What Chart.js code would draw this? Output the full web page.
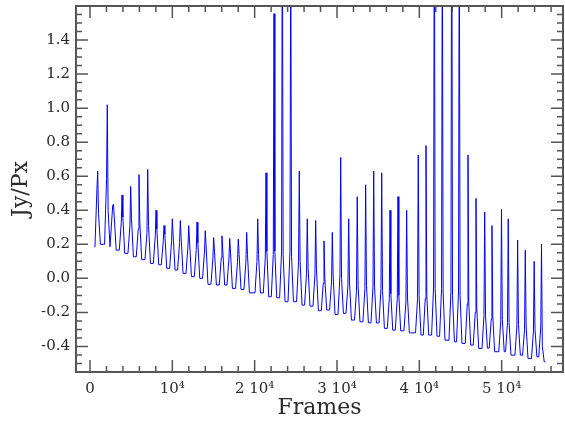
<!DOCTYPE html>
<html>
<head>
<meta charset="utf-8">
<script src="https://cdn.jsdelivr.net/npm/chart.js@4.4.1/dist/chart.umd.min.js"></script>
<style>
  html, body { margin: 0; padding: 0; background: #fff; }
  #wrap { width: 565px; height: 422px; }
</style>
</head>
<body>
<div id="wrap"><canvas id="chart"></canvas></div>
<script>
// frame of each light-curve peak and the values read around it
const peakFrames = [935, 2100, 2850, 3890, 4940, 5950, 7010, 8020, 8990, 10000,
  10970, 11990, 13000, 14000, 15020, 16030, 16970, 18010, 19030, 20370,
  21380, 22350, 23360, 24380, 25420, 26390, 27410, 28420, 29430, 30450,
  31420, 32460, 33480, 34460, 35430, 36440, 37410, 38460, 39870, 40810,
  41820, 42790, 43930, 44850, 45910, 46880, 47940, 48820, 49980, 50800,
  51940, 52870, 53950, 54840];
const spikeValues = [0.63, 1.02, 0.435, 0.49, 0.54, 0.61, 0.64, 0.40, 0.31, 0.35,
  0.34, 0.31, 0.33, 0.28, 0.24, 0.25, 0.235, 0.23, 0.27, 0.35,
  0.62, 1.555, 2.3, 2.0, 0.63, 0.35, 0.34, 0.22, 0.27, 0.71,
  0.35, 0.48, 0.55, 0.63, 0.62, 0.40, 0.48, 0.40, 0.725, 0.78,
  2.4, 2.1, 2.6, 2.2, 0.725, 0.47, 0.39, 0.31, 0.405, 0.35,
  0.225, 0.165, 0.10, 0.20];
const troughValues = [0.19, 0.20, 0.186, 0.166, 0.147, 0.127, 0.11, 0.088, 0.08, 0.059,
  0.049, 0.029, 0.01, 0.0, -0.035, -0.039, -0.039, -0.059, -0.065, -0.085,
  -0.086, -0.108, -0.114, -0.137, -0.137, -0.157, -0.163, -0.19, -0.186, -0.212,
  -0.206, -0.245, -0.255, -0.261, -0.262, -0.294, -0.304, -0.308, -0.32, -0.333,
  -0.333, -0.34, -0.363, -0.373, -0.382, -0.392, -0.412, -0.41, -0.431, -0.431,
  -0.451, -0.451, -0.471, -0.461];
const riseValues = [0.53, 0.58, 0.43, 0.33, 0.31, 0.29, 0.27, 0.25, 0.22, 0.22,
  0.21, 0.19, 0.17, 0.16, 0.12, 0.12, 0.12, 0.10, 0.10, 0.10,
  0.12, 0.14, 0.16, 0.16, 0.10, 0.03, 0.02, -0.03, -0.02, 0.02,
  -0.04, -0.07, -0.06, -0.05, -0.06, -0.12, -0.12, -0.14, -0.12, -0.12,
  -0.05, -0.06, -0.08, -0.08, -0.15, -0.20, -0.22, -0.24, -0.25, -0.26,
  -0.28, -0.30, -0.31, -0.28];
const fallValues = [0.38, 0.40, 0.36, 0.36, 0.35, 0.33, 0.31, 0.29, 0.26, 0.25,
  0.24, 0.22, 0.21, 0.19, 0.16, 0.16, 0.15, 0.14, 0.14, 0.14,
  0.16, 0.16, 0.14, 0.13, 0.10, 0.06, 0.05, 0.0, 0.02, 0.0,
  -0.02, -0.04, -0.04, -0.05, -0.07, -0.09, -0.10, -0.11, -0.10, -0.10,
  -0.06, -0.08, -0.10, -0.10, -0.15, -0.18, -0.22, -0.22, -0.24, -0.26,
  -0.27, -0.28, -0.30, -0.40];
const startPoint = { x: 520, y: 0.186 };
const endPoint = { x: 55320, y: -0.49 };

const xTickValues = [0, 10000, 20000, 30000, 40000, 50000];
const xTickLabels = ['0', '10\u2074', '2 10\u2074', '3 10\u2074', '4 10\u2074', '5 10\u2074'];
const yTickValues = [-0.4, -0.2, 0.0, 0.2, 0.4, 0.6, 0.8, 1.0, 1.2, 1.4];

// build the line: flat trough, quick rise, spike, fall back to next trough
const points = [startPoint];
peakFrames.forEach((f, i) => {
  const nextTrough = i + 1 < troughValues.length ? troughValues[i + 1] : endPoint.y;
  points.push({ x: f - 330, y: troughValues[i] });
  points.push({ x: f - 90, y: riseValues[i] });
  points.push({ x: f, y: spikeValues[i] });
  points.push({ x: f + 100, y: fallValues[i] });
  points.push({ x: f + 330, y: nextTrough });
});
points.push(endPoint);

const serif = 'DejaVu Serif';
const textColor = '#2a2a2a';

// box frame with inward major/minor ticks on all four sides
const frameTicks = {
  id: 'frameTicks',
  afterDraw(chart) {
    const { ctx, chartArea: a, scales: { x, y } } = chart;
    ctx.save();
    ctx.strokeStyle = '#555';
    ctx.lineWidth = 1.5;
    ctx.beginPath();
    for (let v = 0; v < x.max; v += 2000) {
      const px = x.getPixelForValue(v);
      const len = v % 10000 === 0 ? 12 : 6;
      ctx.moveTo(px, a.bottom); ctx.lineTo(px, a.bottom - len);
      ctx.moveTo(px, a.top); ctx.lineTo(px, a.top + len);
    }
    for (let i = -10; i < 32; i++) {
      const py = y.getPixelForValue(i * 0.05);
      const len = i % 4 === 0 ? 12 : 6;
      ctx.moveTo(a.left, py); ctx.lineTo(a.left + len, py);
      ctx.moveTo(a.right, py); ctx.lineTo(a.right - len, py);
    }
    ctx.stroke();
    ctx.lineWidth = 2;
    ctx.strokeRect(a.left, a.top, a.right - a.left, a.bottom - a.top);
    ctx.restore();
  }
};

new Chart(document.getElementById('chart'), {
  type: 'scatter',
  data: {
    datasets: [{
      data: points,
      showLine: true,
      borderColor: '#0000ff',
      borderWidth: 1,
      pointRadius: 0,
      tension: 0
    }]
  },
  options: {
    responsive: true,
    maintainAspectRatio: false,
    animation: false,
    layout: { padding: { top: 6, right: 2, left: 0, bottom: 0 } },
    plugins: { legend: { display: false }, tooltip: { enabled: false } },
    scales: {
      x: {
        type: 'linear',
        min: -1700,
        max: 57450,
        grid: { display: false, drawTicks: false },
        border: { display: false },
        afterBuildTicks: (axis) => { axis.ticks = xTickValues.map(v => ({ value: v })); },
        afterFit: (axis) => {
          axis.height = 50;
          axis.paddingLeft = 0;
          axis.paddingRight = 0;
        },
        ticks: {
          padding: 8,
          maxRotation: 0,
          autoSkip: false,
          color: textColor,
          font: { family: serif, size: 15 },
          callback: (v) => xTickLabels[xTickValues.indexOf(v)]
        },
        title: {
          display: true,
          text: 'Frames',
          color: textColor,
          font: { family: serif, size: 22 },
          padding: { top: 0, bottom: 1 }
        }
      },
      y: {
        type: 'linear',
        min: -0.55,
        max: 1.6,
        grid: { display: false, drawTicks: false },
        border: { display: false },
        afterBuildTicks: (axis) => { axis.ticks = yTickValues.map(v => ({ value: v })); },
        afterFit: (axis) => {
          axis.width = 76;
          axis.paddingTop = 0;
          axis.paddingBottom = 0;
        },
        ticks: {
          padding: 6,
          autoSkip: false,
          color: textColor,
          font: { family: serif, size: 15 },
          callback: (v) => v.toFixed(1)
        },
        title: {
          display: true,
          text: 'Jy/Px',
          color: textColor,
          font: { family: serif, size: 22 },
          padding: { top: 8, bottom: 0 }
        }
      }
    }
  },
  plugins: [frameTicks]
});
</script>
</body>
</html>
